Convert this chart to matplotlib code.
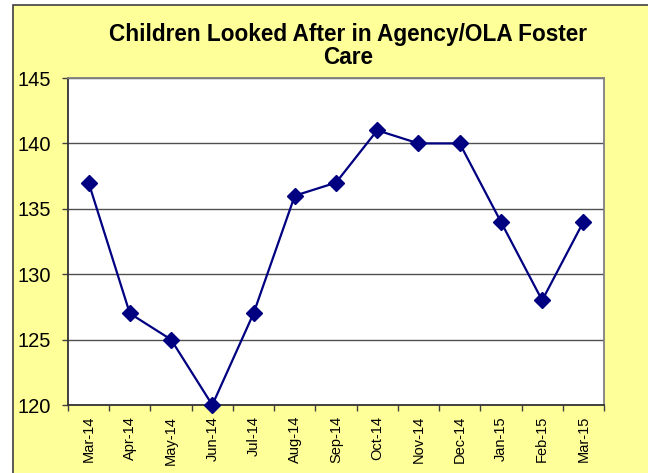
import matplotlib.pyplot as plt
import matplotlib.patches as mpatches
import numpy as np

plt.rcParams['font.family'] = ['Liberation Sans', 'DejaVu Sans']

months = ['Mar-14', 'Apr-14', 'May-14', 'Jun-14', 'Jul-14', 'Aug-14', 'Sep-14',
          'Oct-14', 'Nov-14', 'Dec-14', 'Jan-15', 'Feb-15', 'Mar-15']
children = [137, 127, 125, 120, 127, 136, 137, 141, 140, 140, 134, 128, 134]

bg = '#FFFF99'
navy = '#000080'

fig = plt.figure(figsize=(6.48, 4.73), dpi=100)
fig.patch.set_facecolor('white')

# yellow chart area with a dark frame (cropped at right/bottom)
frame = mpatches.Rectangle((13 / 648, -0.05), 1.0, 1 - 5 / 473 + 0.05,
                           transform=fig.transFigure, facecolor=bg,
                           edgecolor='#404040', linewidth=1.2, zorder=-5)
fig.patches.append(frame)

ax = fig.add_axes([68 / 648, 1 - 405 / 473, (604 - 68) / 648, (405 - 78) / 473])
ax.set_facecolor('white')

x = np.arange(len(months))
ax.plot(x, children, color=navy, linewidth=1.6, marker='D', markersize=8,
        markerfacecolor=navy, markeredgecolor=navy, zorder=3, clip_on=False)

ax.set_xlim(-0.5, len(months) - 0.5)
ax.set_ylim(120, 145)
ax.set_yticks(np.arange(120, 146, 5))
ax.tick_params(axis='y', labelsize=14.5, direction='out', length=4, width=1,
               pad=8, color='#404040')
ax.yaxis.grid(True, color='#505050', linewidth=1)
ax.set_axisbelow(True)

ax.set_xticks(x)
ax.set_xticklabels(months, rotation=90, fontsize=10.5)
ax.tick_params(axis='x', which='major', length=0, pad=8)
ax.set_xticks(np.arange(-0.5, len(months), 1), minor=True)
ax.tick_params(axis='x', which='minor', direction='out', length=4, width=1,
               color='#404040')

ax.spines['left'].set_color('#333333')
ax.spines['bottom'].set_color('#333333')
ax.spines['right'].set_color('#808080')
ax.spines['top'].set_color('#808080')
for s in ax.spines.values():
    s.set_linewidth(1.3)

fig.text(348 / 648, 1 - 46 / 473, 'Children Looked After in Agency/OLA Foster\nCare',
         ha='center', va='center', fontsize=16.3, fontweight='bold', linespacing=1.05)

fig.savefig('out.png', dpi=100, facecolor=fig.get_facecolor())
